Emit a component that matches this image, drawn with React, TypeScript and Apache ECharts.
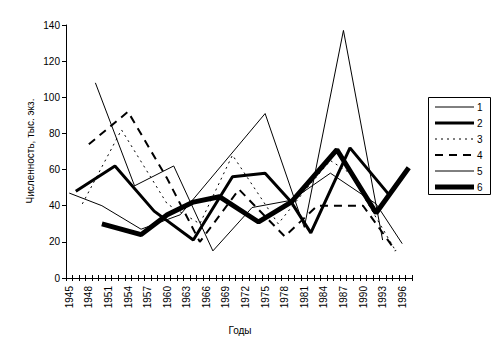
import React, { useEffect, useRef } from "react";
import * as echarts from "echarts";

const yearCategories = [
  "1945","1946","1947","1948","1949","1950","1951","1952","1953","1954",
  "1955","1956","1957","1958","1959","1960","1961","1962","1963","1964",
  "1965","1966","1967","1968","1969","1970","1971","1972","1973","1974",
  "1975","1976","1977","1978","1979","1980","1981","1982","1983","1984",
  "1985","1986","1987","1988","1989","1990","1991","1992","1993","1994",
  "1995","1996","1997",
];

const seriesNames = ["1", "2", "3", "4", "5", "6"];

const s1Years = [1945, 1950, 1956, 1962, 1975, 1981, 1987, 1993];
const s1Values = [47, 40, 27, 35, 91, 28, 137, 21];

const s2Years = [1946, 1952, 1958, 1964, 1970, 1975, 1979, 1982, 1988, 1994];
const s2Values = [48, 62, 37, 21, 56, 58, 42, 25, 72, 46];

const s3Years = [1947, 1953, 1960, 1965, 1970, 1977, 1981, 1985, 1988, 1995];
const s3Values = [41, 82, 41, 30, 68, 30, 48, 65, 58, 15];

const s4Years = [1948, 1954, 1960, 1965, 1971, 1978, 1983, 1990, 1995];
const s4Values = [74, 92, 55, 20, 49, 23, 40, 40, 15];

const s5Years = [1949, 1955, 1961, 1967, 1973, 1979, 1985, 1992, 1996];
const s5Values = [108, 51, 62, 15, 39, 43, 58, 41, 19];

const s6Years = [1950, 1956, 1960, 1964, 1968, 1974, 1979, 1986, 1992, 1997];
const s6Values = [30, 24, 35, 42, 45, 31, 42, 71, 36, 61];

const yAxisTitle = "Численность, тыс. экз.";
const xAxisTitle = "Годы";

const FONT = "'Liberation Sans', Arial, sans-serif";

function pairs(years: number[], values: number[]) {
  return years.map((y, i) => [String(y), values[i]]);
}

export default function App() {
  const ref = useRef<HTMLDivElement>(null);

  useEffect(() => {
    if (!ref.current) return;
    const chart = echarts.init(ref.current, undefined, { renderer: "svg" });

    const styles: { width: number; dash: number[] | null }[] = [
      { width: 1, dash: null },
      { width: 3, dash: null },
      { width: 1, dash: [2, 4] },
      { width: 2, dash: [8, 6] },
      { width: 1, dash: null },
      { width: 5, dash: null },
    ];
    const datas = [
      pairs(s1Years, s1Values),
      pairs(s2Years, s2Values),
      pairs(s3Years, s3Values),
      pairs(s4Years, s4Values),
      pairs(s5Years, s5Values),
      pairs(s6Years, s6Values),
    ];

    const legendLeft = 428;
    const legendTop = 97;
    const legendItems: any[] = [];
    seriesNames.forEach((name, i) => {
      const cy = legendTop + 10 + i * 16;
      legendItems.push({
        type: "line",
        shape: { x1: legendLeft + 7, y1: cy, x2: legendLeft + 46, y2: cy },
        style: {
          stroke: "#000",
          lineWidth: styles[i].width,
          lineDash: styles[i].dash || undefined,
        },
      });
      legendItems.push({
        type: "text",
        x: legendLeft + 49,
        y: cy,
        style: {
          text: name,
          fontSize: 10,
          fontFamily: FONT,
          fill: "#000",
          align: "left",
          verticalAlign: "middle",
        },
      });
    });

    chart.setOption({
      animation: false,
      backgroundColor: "#ffffff",
      textStyle: { fontFamily: FONT, color: "#000" },
      grid: { left: 66, top: 25, width: 346, height: 253, containLabel: false },
      xAxis: [
        {
          type: "category",
          data: yearCategories,
          boundaryGap: true,
          axisLine: { lineStyle: { color: "#000", width: 1 } },
          axisTick: { show: true, interval: 0, length: 3, lineStyle: { color: "#000" } },
          axisLabel: {
            interval: 2,
            rotate: 90,
            fontSize: 10,
            color: "#000",
            margin: 8,
            fontFamily: FONT,
          },
          splitLine: { show: false },
        },
        {
          type: "category",
          data: yearCategories,
          position: "bottom",
          boundaryGap: true,
          axisLine: { show: false },
          axisTick: { show: true, inside: true, interval: 0, length: 3, lineStyle: { color: "#000" } },
          axisLabel: { show: false },
          splitLine: { show: false },
        },
      ],
      yAxis: {
        type: "value",
        min: 0,
        max: 140,
        interval: 20,
        axisLine: { show: true, lineStyle: { color: "#000", width: 1 } },
        axisTick: { show: true, length: 4, lineStyle: { color: "#000" } },
        axisLabel: { fontSize: 10, color: "#000", margin: 6, fontFamily: FONT },
        splitLine: { show: false },
      },
      graphic: [
        {
          type: "text",
          x: 30,
          y: 151,
          rotation: Math.PI / 2,
          style: {
            text: yAxisTitle,
            fontSize: 10,
            fontFamily: FONT,
            fill: "#000",
            align: "center",
            verticalAlign: "middle",
          },
        },
        {
          type: "text",
          x: 240,
          y: 330,
          style: {
            text: xAxisTitle,
            fontSize: 10,
            fontFamily: FONT,
            fill: "#000",
            align: "center",
            verticalAlign: "middle",
          },
        },
        {
          type: "rect",
          shape: { x: legendLeft + 0.5, y: legendTop + 0.5, width: 62, height: 97 },
          style: { fill: "#fff", stroke: "#000", lineWidth: 1 },
        },
        ...legendItems,
      ],
      series: seriesNames.map((name, i) => ({
        name,
        type: "line",
        xAxisIndex: 0,
        data: datas[i],
        symbol: "none",
        showSymbol: false,
        lineStyle: {
          color: "#000",
          width: styles[i].width,
          type: styles[i].dash ? styles[i].dash : "solid",
        },
        itemStyle: { color: "#000" },
        z: 2 + i,
      })),
    });

    return () => chart.dispose();
  }, []);

  return (
    <div
      ref={ref}
      style={{ position: "absolute", left: 0, top: 0, width: 497, height: 357, background: "#fff" }}
    />
  );
}
